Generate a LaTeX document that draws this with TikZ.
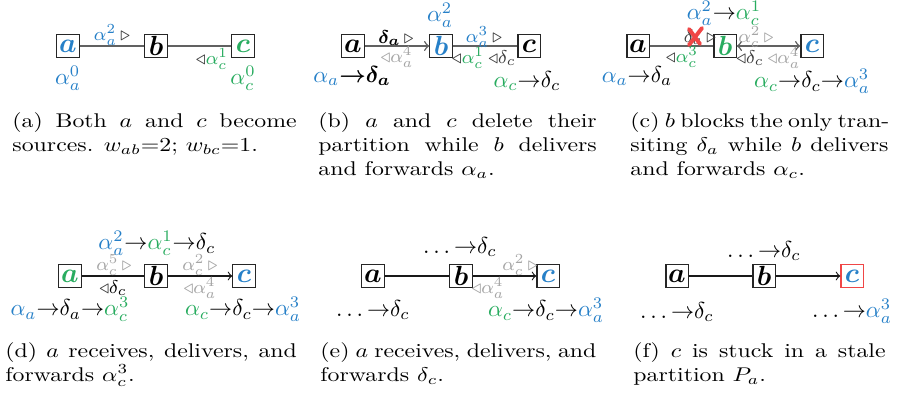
\documentclass[tikz,border=0pt]{standalone}
\usepackage{amsmath,amssymb,graphicx}
\definecolor{blueA}{RGB}{38,128,200}
\definecolor{greenA}{RGB}{40,172,95}
\definecolor{grayL}{RGB}{165,165,165}
\definecolor{darkT}{RGB}{60,60,60}
\definecolor{redX}{RGB}{240,70,70}
\newcommand{\cB}[1]{\textcolor{blueA}{#1}}
\newcommand{\cG}[1]{\textcolor{greenA}{#1}}
\newcommand{\cL}[1]{\textcolor{grayL}{#1}}
\newcommand{\cD}[1]{\textcolor{darkT}{#1}}
\newcommand{\rt}{\cD{\triangleright}}
\newcommand{\lt}{\cD{\triangleleft}}
\newcommand{\tto}{{\to}}
\newcommand{\captext}[1]{\scalebox{1.03}[0.86]{\vbox{\normalsize\baselineskip=12pt #1}}}
\newcommand{\jline}[2]{\hbox to #1{#2}}
\tikzset{
  nd/.style={draw=black!85, line width=0.5pt, minimum width=9.6pt, minimum height=9.6pt, inner sep=0pt, font=\large},
  lnk/.style={draw=black!62, line width=0.65pt},
  lnkb/.style={draw=black!90, line width=0.5pt},
  el/.style={font=\footnotesize, inner sep=0pt},
  bl/.style={font=\normalsize, inner sep=0pt},
  captxt/.style={anchor=north west, inner sep=0pt},
}
\begin{document}
\begin{tikzpicture}[x=0.433pt,y=-0.433pt]
\fill[white] (0,0) rectangle (906,399);
\useasboundingbox (0,0) rectangle (906,399);

% ---------------- (a)
\node[nd] (aA) at (68,46) {\cB{$\boldsymbol{a}$}};
\node[nd] (aB) at (156,46) {$\boldsymbol{b}$};
\node[nd] (aC) at (243,46) {\cG{$\boldsymbol{c}$}};
\draw[lnk] (aA) -- (aB);
\draw[lnk] (aB) -- (aC);
\node[el] (aL1) at (112,35) {$\cB{\alpha_a^2}\,\rt$};
\node[el] (aL2) at (212,59) {$\lt\cG{\alpha_c^1}$};
\node[bl] (aL3) at (68,78) {$\cB{\alpha_a^0}$};
\node[bl] (aL4) at (243,78) {$\cG{\alpha_c^0}$};
\node[captxt] (capA) at (12,112) {\captext{\jline{119.5pt}{(a) Both $a$ and $c$ become}\hbox{sources. $w_{ab}$=2; $w_{bc}$=1.}}};

% ---------------- (b)
\node[nd] (bA) at (353,46) {$\boldsymbol{a}$};
\node[nd] (bB) at (441,46) {\cB{$\boldsymbol{b}$}};
\node[nd] (bC) at (529,46) {$\boldsymbol{c}$};
\draw[lnk,->] (bA) -- (bB);
\draw[lnk] (bB) -- (bC);
\node[el] (bL1) at (396,38) {$\boldsymbol{\delta_a}\,\rt$};
\node[el] (bL2) at (397,57) {$\cL{\triangleleft\alpha_a^4}$};
\node[bl] (bL3) at (440,15) {$\cB{\alpha_a^2}$};
\node[el] (bL4) at (484,37) {$\cB{\alpha_a^3}\,\rt$};
\node[el] (bL5) at (468,58) {$\lt\cG{\alpha_c^1}$};
\node[el] (bL6) at (502,58) {$\lt\cD{\delta_c}$};
\node[bl] (bL7) at (352,76) {$\cB{\alpha_a}\boldsymbol{\tto\delta_a}$};
\node[bl] (bL8) at (527,81) {$\cG{\alpha_c}\tto\delta_c$};
\node[captxt] (capB) at (318,112) {\captext{\jline{117pt}{(b) $a$ and $c$ delete their}\jline{117pt}{partition while $b$ delivers}\hbox{and forwards $\alpha_a$.}}};

% ---------------- (c)
\node[nd] (cA) at (638,46) {$\boldsymbol{a}$};
\node[nd] (cB) at (725,46) {\cG{$\boldsymbol{b}$}};
\node[nd] (cC) at (812,46) {\cB{$\boldsymbol{c}$}};
\draw[lnk] (cA) -- (cB);
\draw[lnk,<->] (cB) -- (cC);
\node[bl] (cL1) at (724,13) {$\cB{\alpha_a^2}\tto\cG{\alpha_c^1}$};
\node[el] (cL2) at (700,37) {$\cD{\delta_a}\,\rt$};
\draw[redX, line width=1.7pt, line cap=round] (702,28) -- (689,45) (689,29) -- (700,44);
\node[el] (cL3) at (682,57) {$\lt\cG{\alpha_c^3}$};
\node[el] (cL4) at (756,37) {$\cL{\alpha_c^2\,\triangleright}$};
\node[el] (cL5) at (750,58) {$\lt\cD{\delta_c}$};
\node[el] (cL6) at (784,58) {$\cL{\triangleleft\alpha_a^4}$};
\node[bl] (cL7) at (637,76) {$\cB{\alpha_a}\tto\delta_a$};
\node[bl] (cL8) at (812,81) {$\cG{\alpha_c}\tto\delta_c\tto\cB{\alpha_a^3}$};
\node[captxt] (capC) at (630,112) {\captext{\jline{108.5pt}{(c) $b$ blocks the only tran-}\jline{108.5pt}{siting $\delta_a$ while $b$ delivers}\hbox{and forwards $\alpha_c$.}}};

% ---------------- (d)
\node[nd] (dA) at (70,276) {\cG{$\boldsymbol{a}$}};
\node[nd] (dB) at (156,276) {$\boldsymbol{b}$};
\node[nd] (dC) at (244,276) {\cB{$\boldsymbol{c}$}};
\draw[lnkb] (dA) -- (dB);
\draw[lnkb,->] (dB) -- (dC);
\node[bl] (dL1) at (157,243) {$\cB{\alpha_a^2}\tto\cG{\alpha_c^1}\tto\delta_c$};
\node[el] (dL2) at (114,265) {$\cL{\alpha_c^5\,\triangleright}$};
\node[el] (dL3) at (113,288) {$\lt\delta_c$};
\node[el] (dL4) at (200,265) {$\cL{\alpha_c^2\,\triangleright}$};
\node[el] (dL5) at (200,288) {$\cL{\triangleleft\alpha_a^4}$};
\node[bl] (dL6) at (70,309) {$\cB{\alpha_a}\tto\delta_a\tto\cG{\alpha_c^3}$};
\node[bl] (dL7) at (243,309) {$\cG{\alpha_c}\tto\delta_c\tto\cB{\alpha_a^3}$};
\node[captxt] (capD) at (5,342) {\captext{\jline{122.5pt}{(d) $a$ receives, delivers, and}\hbox{forwards $\alpha_c^3$.}}};

% ---------------- (e)
\node[nd] (eA) at (373,276) {$\boldsymbol{a}$};
\node[nd] (eB) at (461,276) {$\boldsymbol{b}$};
\node[nd] (eC) at (548,276) {\cB{$\boldsymbol{c}$}};
\draw[lnkb] (eA) -- (eB);
\draw[lnkb,->] (eB) -- (eC);
\node[bl] (eL1) at (460,247) {$\ldots\tto\delta_c$};
\node[el] (eL2) at (520,265) {$\cL{\alpha_c^2\,\triangleright}$};
\node[el] (eL3) at (488,288) {$\cL{\triangleleft\alpha_a^4}$};
\node[bl] (eL4) at (373,310) {$\ldots\tto\delta_c$};
\node[bl] (eL5) at (546,310) {$\cG{\alpha_c}\tto\delta_c\tto\cB{\alpha_a^3}$};
\node[captxt] (capE) at (320,342) {\captext{\jline{116pt}{(e) $a$ receives, delivers, and}\hbox{forwards $\delta_c$.}}};

% ---------------- (f)
\node[nd] (fA) at (677,276) {$\boldsymbol{a}$};
\node[nd] (fB) at (764,276) {$\boldsymbol{b}$};
\node[nd, draw=redX] (fC) at (852,276) {\cB{$\boldsymbol{c}$}};
\draw[lnkb] (fA) -- (fB);
\draw[lnkb,->] (fB) -- (fC);
\node[bl] (fL1) at (764,251) {$\ldots\tto\delta_c$};
\node[bl] (fL2) at (677,312) {$\ldots\tto\delta_c$};
\node[bl] (fL3) at (852,311) {$\ldots\tto\cB{\alpha_a^3}$};
\node[captxt] (capF) at (633,342) {\captext{\jline{106pt}{(f) $c$ is stuck in a stale}\hbox{partition $P_a$.}}};
\end{tikzpicture}
\end{document}
